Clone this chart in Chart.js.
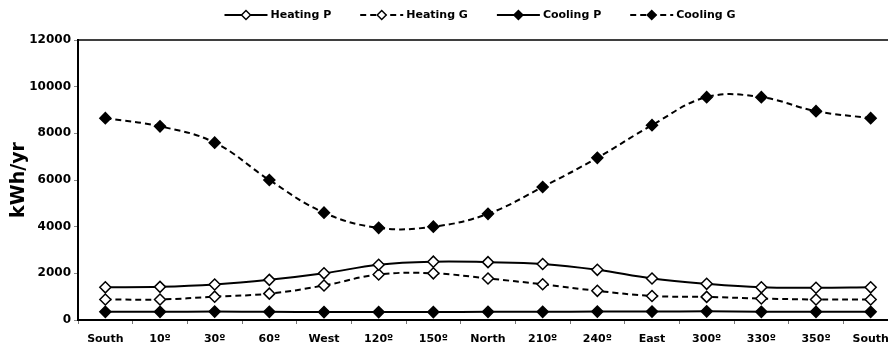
<!DOCTYPE html>
<html>
<head>
<meta charset="utf-8">
<script src="https://cdn.jsdelivr.net/npm/chart.js@4"></script>
<style>
  html, body { margin: 0; padding: 0; background: #fff; overflow: hidden; }
  canvas { display: block; }
</style>
</head>
<body>
<canvas id="c" width="905" height="349"></canvas>
<script>
const categories = ['South', '10º', '30º', '60º', 'West', '120º', '150º', 'North', '210º', '240º', 'East', '300º', '330º', '350º', 'South'];
const heatingP = [1400, 1420, 1520, 1720, 2000, 2370, 2500, 2480, 2400, 2150, 1780, 1550, 1400, 1380, 1400];
const heatingG = [880, 880, 1000, 1130, 1480, 1950, 2000, 1780, 1530, 1250, 1030, 990, 920, 880, 880];
const coolingP = [350, 350, 360, 350, 340, 340, 340, 350, 350, 360, 360, 370, 350, 350, 350];
const coolingG = [8650, 8300, 7600, 6000, 4600, 3950, 4000, 4550, 5700, 6950, 8350, 9550, 9550, 8950, 8650];
const yTicks = [0, 2000, 4000, 6000, 8000, 10000, 12000];

const FONT = "'DejaVu Sans', Verdana, sans-serif";

function series(label, data, dashed, filled) {
  return {
    label: label,
    data: data,
    borderColor: '#000',
    borderWidth: 2,
    borderDash: dashed ? [6, 4] : [],
    tension: 0.4,
    pointStyle: 'rectRot',
    pointRadius: 5.5,
    pointBorderWidth: 1.5,
    pointBorderColor: '#000',
    pointBackgroundColor: filled ? '#000' : '#fff',
    fill: false
  };
}

const frame = {
  id: 'frame',
  afterDraw(chart) {
    const ctx = chart.ctx, a = chart.chartArea;
    ctx.save();
    ctx.strokeStyle = '#000';
    ctx.lineWidth = 1.5;
    ctx.beginPath();
    ctx.moveTo(a.left, a.top);
    ctx.lineTo(a.right, a.top);
    ctx.lineTo(a.right, a.bottom);
    ctx.stroke();

    // legend
    ctx.font = 'bold 11px ' + FONT;
    ctx.textBaseline = 'middle';
    const lineLen = 43, gap = 3, itemGap = 29, y = 15;
    const items = chart.data.datasets.map(d => ({ d, w: lineLen + gap + ctx.measureText(d.label).width }));
    const total = items.reduce((s, it) => s + it.w, 0) + itemGap * (items.length - 1);
    let x = 480 - total / 2;
    items.forEach(it => {
      const d = it.d;
      ctx.strokeStyle = '#000';
      ctx.lineWidth = 2;
      ctx.setLineDash(d.borderDash);
      ctx.beginPath();
      ctx.moveTo(x, y);
      ctx.lineTo(x + lineLen, y);
      ctx.stroke();
      ctx.setLineDash([]);
      const cx = x + lineLen / 2, r = 4.5;
      ctx.beginPath();
      ctx.moveTo(cx - r, y);
      ctx.lineTo(cx, y - r);
      ctx.lineTo(cx + r, y);
      ctx.lineTo(cx, y + r);
      ctx.closePath();
      ctx.fillStyle = d.pointBackgroundColor;
      ctx.fill();
      ctx.lineWidth = 1.5;
      ctx.stroke();
      ctx.fillStyle = '#000';
      ctx.textAlign = 'left';
      ctx.fillText(d.label, x + lineLen + gap, y);
      x += it.w + itemGap;
    });
    ctx.restore();
  }
};

new Chart(document.getElementById('c').getContext('2d'), {
  type: 'line',
  data: {
    labels: categories,
    datasets: [
      series('Heating P', heatingP, false, false),
      series('Heating G', heatingG, true, false),
      series('Cooling P', coolingP, false, true),
      series('Cooling G', coolingG, true, true)
    ]
  },
  options: {
    responsive: false,
    animation: false,
    layout: { padding: { top: 40, right: 3, left: 8, bottom: 0 } },
    plugins: { legend: { display: false }, tooltip: { enabled: false } },
    scales: {
      x: {
        offset: true,
        grid: { display: true, offset: true, drawOnChartArea: false, tickLength: 4, color: '#777' },
        border: { display: true, color: '#000', width: 2 },
        ticks: { color: '#000', font: { family: FONT, size: 11, weight: 'bold' }, padding: 9, maxRotation: 0, autoSkip: false },
        afterFit(s) { s.height = 29; }
      },
      y: {
        min: 0,
        max: 12000,
        afterBuildTicks(s) { s.ticks = yTicks.map(v => ({ value: v })); },
        grid: { display: true, drawOnChartArea: false, tickLength: 4, color: '#888' },
        border: { display: true, color: '#000', width: 2 },
        ticks: { color: '#000', font: { family: FONT, size: 12, weight: 'bold' }, padding: 3, callback: v => String(v) },
        title: { display: true, text: 'kWh/yr', color: '#000', font: { family: FONT, size: 19, weight: 'bold' }, padding: { top: 0, bottom: 0 } },
        afterFit(s) { s.width = 70; }
      }
    }
  },
  plugins: [frame]
});
</script>
</body>
</html>
